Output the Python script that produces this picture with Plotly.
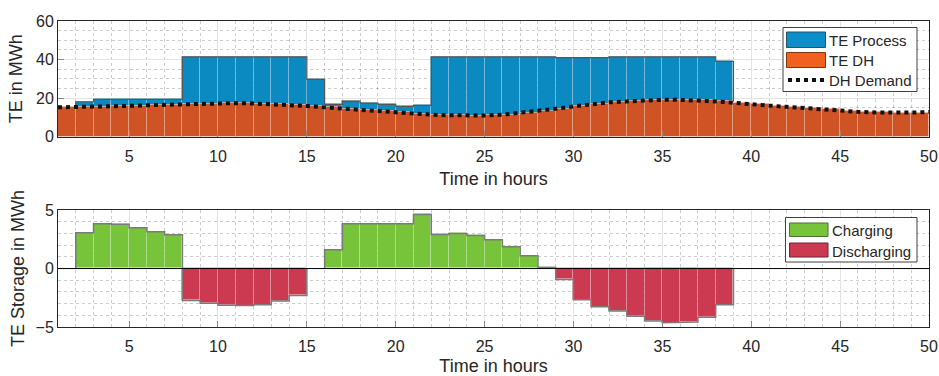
import plotly.graph_objects as go

# ---------------- data ----------------
hours = list(range(1, 51))  # hour marks 1..50
hour_starts = list(range(1, 50))  # interval starts (each bar spans one hour)

dh_demand = [15.2, 15.3, 15.5, 15.8, 16.0, 16.3, 16.6, 16.9, 17.2, 17.4,
             17.4, 17.2, 16.9, 16.4, 15.9, 15.2, 14.5, 13.8, 13.2, 12.6,
             12.0, 11.4, 11.1, 10.9, 11.0, 11.4, 12.3, 13.3, 14.5, 15.7,
             16.8, 17.8, 18.3, 18.8, 19.1, 19.1, 18.8, 18.3, 17.6, 16.7,
             16.1, 15.5, 14.8, 14.1, 13.5, 12.9, 12.6, 12.4, 12.5, 12.8]

te_dh = dh_demand[:49]

te_process = [0, 2.8, 3.8, 3.5, 3.3, 3.0, 2.7, 24.5, 24.2, 24.0,
              24.0, 24.2, 24.5, 25.0, 13.8, 1.5, 3.9, 3.6, 3.5, 3.1,
              4.2, 30.0, 30.3, 30.5, 30.4, 30.0, 29.1, 28.1, 26.5, 25.0,
              24.2, 23.6, 23.1, 22.6, 22.3, 22.3, 22.6, 20.8, 0, 0,
              0, 0, 0, 0, 0, 0, 0, 0, 0]

charging = [0, 3.06, 3.83, 3.80, 3.49, 3.14, 2.89, 0, 0, 0,
            0, 0, 0, 0, 0, 1.60, 3.83, 3.83, 3.83, 3.83,
            4.63, 2.91, 3.00, 2.83, 2.46, 1.86, 1.09, 0.09, 0, 0,
            0, 0, 0, 0, 0, 0, 0, 0, 0, 0,
            0, 0, 0, 0, 0, 0, 0, 0, 0]

discharging = [0, 0, 0, 0, 0, 0, 0, -2.74, -2.97, -3.14,
               -3.17, -3.09, -2.77, -2.31, 0, 0, 0, 0, 0, 0,
               0, 0, 0, 0, 0, 0, 0, 0, -0.94, -2.66,
               -3.26, -3.63, -4.09, -4.49, -4.63, -4.57, -4.17, -3.09, 0, 0,
               0, 0, 0, 0, 0, 0, 0, 0, 0]

x_ticks = [5, 10, 15, 20, 25, 30, 35, 40, 45, 50]

# ---------------- styles ----------------
FONT = "Liberation Sans, Arial, sans-serif"
TXT = "#262626"
C_PROC = "#0b8ac1"
C_DH = "#d05325"
C_CHG = "#77c43a"
C_DIS = "#cc3a52"
L_PROC = "#0b8fca"
L_DH = "#f0601f"
BAR_EDGE = "rgba(255,255,255,0.2)"

W, H = 939, 376
ML, MR, MT, MB = 58, 10, 21, 49
PW, PH = W - ML - MR, H - MT - MB


def px(x):
    return (x - ML) / PW


def py(y):
    return (H - MB - y) / PH


def nz(v):
    return [None if abs(a) < 1e-12 else a for a in v]


def stair_outline(starts, tops, bases):
    xs, ys = [], []
    prev_on = False
    for i, (s, t, b) in enumerate(zip(starts, tops, bases)):
        on = abs(t - b) > 1e-12
        if on:
            if not prev_on:
                xs += [s, s]
                ys += [b, t]
            else:
                xs += [s]
                ys += [t]
            xs += [s + 1]
            ys += [t]
        else:
            if prev_on:
                xs += [s]
                ys += [bases[i - 1]]
                xs += [None]
                ys += [None]
        prev_on = on
    if prev_on:
        xs += [starts[-1] + 1]
        ys += [bases[-1]]
    return xs, ys


fig = go.Figure()

# ---- top subplot ----
fig.add_trace(go.Bar(x=hour_starts, y=nz(te_process), base=te_dh, width=1, offset=0,
                     marker=dict(color=C_PROC, line=dict(color=BAR_EDGE, width=1)),
                     name="TE Process", xaxis="x", yaxis="y", showlegend=False))
fig.add_trace(go.Bar(x=hour_starts, y=te_dh, width=1, offset=0,
                     marker=dict(color=C_DH, line=dict(color=BAR_EDGE, width=1)),
                     name="TE DH", xaxis="x", yaxis="y", showlegend=False))

tot = [d + p for d, p in zip(te_dh, te_process)]
ox, oy = stair_outline(hour_starts, tot, te_dh)
fig.add_trace(go.Scatter(x=ox, y=oy, mode="lines", line=dict(color="#555555", width=1.2),
                         showlegend=False, hoverinfo="skip", xaxis="x", yaxis="y"))

fig.add_trace(go.Scatter(x=hours, y=dh_demand, mode="lines", name="DH Demand",
                         line=dict(color="#111111", width=4, dash="4px,4px"),
                         xaxis="x", yaxis="y", showlegend=False))

# ---- bottom subplot ----
fig.add_trace(go.Bar(x=hour_starts, y=nz(charging), width=1, offset=0,
                     marker=dict(color=C_CHG, line=dict(color=BAR_EDGE, width=1)),
                     name="Charging", xaxis="x2", yaxis="y2", showlegend=False))
fig.add_trace(go.Bar(x=hour_starts, y=nz(discharging), width=1, offset=0,
                     marker=dict(color=C_DIS, line=dict(color=BAR_EDGE, width=1)),
                     name="Discharging", xaxis="x2", yaxis="y2", showlegend=False))

storage = [c + d for c, d in zip(charging, discharging)]
sx, sy = stair_outline(hour_starts, storage, [0] * len(storage))
fig.add_trace(go.Scatter(x=sx, y=sy, mode="lines", line=dict(color="#7a7a7a", width=1.5),
                         showlegend=False, hoverinfo="skip", xaxis="x2", yaxis="y2"))

fig.add_shape(type="line", xref="x2", yref="y2", x0=1, x1=50, y0=0, y1=0,
              line=dict(color="black", width=1), layer="above")

# ---------------- legends (drawn as boxes + text) ----------------
def legend_box(x0, y0, x1, y1):
    fig.add_shape(type="rect", xref="paper", yref="paper",
                  x0=px(x0), x1=px(x1), y0=py(y1), y1=py(y0),
                  fillcolor="white", line=dict(color="#404040", width=1), layer="above")


def swatch(x0, y0, x1, y1, color, edge):
    fig.add_shape(type="rect", xref="paper", yref="paper",
                  x0=px(x0), x1=px(x1), y0=py(y1), y1=py(y0),
                  fillcolor=color, line=dict(color=edge, width=1), layer="above")


def label(x, y, text):
    fig.add_annotation(x=px(x), y=py(y), xref="paper", yref="paper", text=text,
                       showarrow=False, xanchor="left", yanchor="middle",
                       font=dict(family=FONT, size=15, color=TXT))


legend_box(783, 27.5, 917, 91.5)
swatch(786.5, 32, 825.5, 47.5, L_PROC, "#2f4f5f")
swatch(786.5, 52.5, 825.5, 67.5, L_DH, "#7a3510")
fig.add_shape(type="line", xref="paper", yref="paper",
              x0=px(788), x1=px(825), y0=py(80), y1=py(80),
              line=dict(color="#111111", width=4, dash="dot"), layer="above")
label(827, 40, "TE Process")
label(827, 60, "TE DH")
label(827, 80, "DH Demand")

legend_box(785.5, 217.5, 917, 262)
swatch(789.5, 223, 828, 236.5, C_CHG, "#4d6d3a")
swatch(789.5, 243, 828, 257, C_DIS, "#6d2530")
label(830, 230.5, "Charging")
label(830, 251, "Discharging")

# ---------------- axes ----------------
minor_x = dict(tickmode="linear", tick0=0, dtick=1, showgrid=True,
               gridcolor="rgba(0,0,0,0.2)", griddash="dot", gridwidth=1)

common_x = dict(range=[1, 50], tickmode="array", tickvals=x_ticks,
                showgrid=True, gridcolor="#e3e3e3", gridwidth=1,
                showline=True, linecolor=TXT, linewidth=1, mirror=True,
                ticks="inside", ticklen=6, tickcolor="#8a8a8a",
                tickfont=dict(family=FONT, size=16, color=TXT),
                ticklabelstandoff=5, automargin=False,
                zeroline=False, minor=minor_x)

common_y = dict(showgrid=True, gridcolor="#e3e3e3",
                showline=True, linecolor=TXT, linewidth=1, mirror=True,
                ticks="inside", ticklen=6, tickcolor="#8a8a8a", zeroline=False,
                tickfont=dict(family=FONT, size=16, color=TXT),
                automargin=False, tickmode="array")

fig.update_layout(
    width=W, height=H,
    margin=dict(l=ML, r=MR, t=MT, b=MB, autoexpand=False),
    paper_bgcolor="white", plot_bgcolor="white",
    barmode="relative", bargap=0, showlegend=False,
    font=dict(family=FONT, color=TXT),
    xaxis=dict(common_x, domain=[0, 1], anchor="y",
               title=dict(text="Time in hours", font=dict(family=FONT, size=18, color=TXT), standoff=8)),
    yaxis=dict(common_y, domain=[0.622, 1.0], anchor="x", range=[0, 60],
               tickvals=[0, 20, 40, 60],
               minor=dict(tickmode="linear", tick0=0, dtick=5, showgrid=True,
                          gridcolor="rgba(0,0,0,0.2)", griddash="dot"),
               title=dict(text="TE in MWh", font=dict(family=FONT, size=18, color=TXT), standoff=8)),
    xaxis2=dict(common_x, domain=[0, 1], anchor="y2",
                title=dict(text="Time in hours", font=dict(family=FONT, size=18, color=TXT), standoff=8)),
    yaxis2=dict(common_y, domain=[0, 0.382], anchor="x2", range=[-5, 5],
                tickvals=[-5, 0, 5],
                minor=dict(tickmode="linear", tick0=0, dtick=1, showgrid=True,
                           gridcolor="rgba(0,0,0,0.2)", griddash="dot"),
                title=dict(text="TE Storage in MWh", font=dict(family=FONT, size=18, color=TXT), standoff=6)),
)

fig.write_html("out.html", config={"displayModeBar": False},
               post_script="document.body.style.margin='0px';document.body.style.overflow='hidden';")
